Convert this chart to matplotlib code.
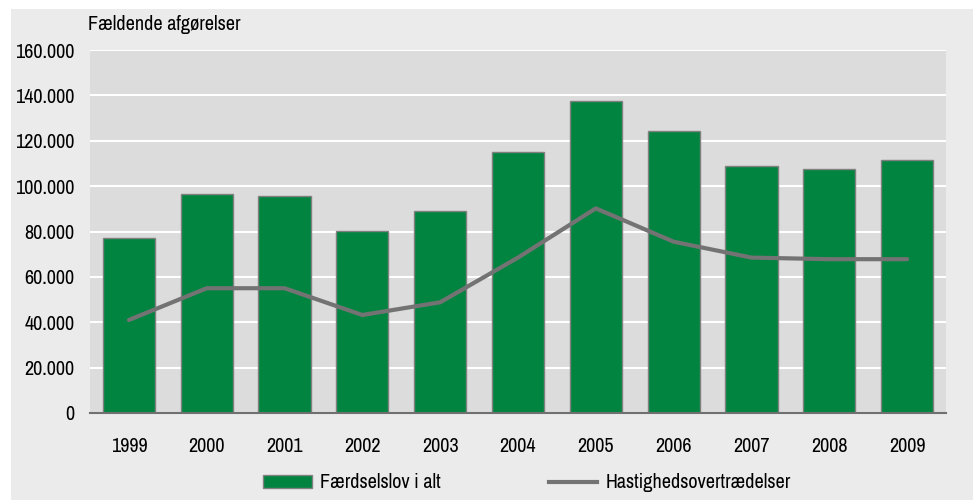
import matplotlib
matplotlib.use("Agg")
import matplotlib.pyplot as plt
from matplotlib import font_manager
from matplotlib.patches import Rectangle, Patch
from matplotlib.lines import Line2D
import numpy as np

years = ["1999", "2000", "2001", "2002", "2003", "2004", "2005", "2006", "2007", "2008", "2009"]
faerdselslov = [77000, 96400, 95700, 80200, 88900, 115000, 137500, 124300, 108900, 107700, 111500]
hastighed = [41000, 55000, 55000, 43200, 48800, 68500, 90200, 75500, 68500, 67800, 67800]
yticks = [0, 20000, 40000, 60000, 80000, 100000, 120000, 140000, 160000]
ytick_labels = ["0", "20.000", "40.000", "60.000", "80.000", "100.000", "120.000", "140.000", "160.000"]

names = sorted({f.name for f in font_manager.fontManager.ttflist})
narrow = [n for n in names if "Narrow" in n or "Condensed" in n]
if narrow:
    FONT = [narrow[0], "DejaVu Sans"]
    FS = 14.5
else:
    FONT = ["Liberation Sans", "DejaVu Sans"]
    FS = 12.5
plt.rcParams["font.family"] = FONT

W, H = 973, 501
fig = plt.figure(figsize=(W / 100, H / 100), dpi=100, facecolor="white")
fig.patches.append(Rectangle((11 / W, 1 / H), (W - 11) / W, (500 - 9) / H,
                             transform=fig.transFigure, facecolor="#ebebeb",
                             edgecolor="none", zorder=-10))

ax = fig.add_axes([90 / W, (H - 413) / H, (946 - 90) / W, (413 - 50) / H])
ax.set_zorder(2)
ax.set_facecolor("#dcdcdc")
x = np.arange(len(years))
ax.bar(x, faerdselslov, width=0.67, color="#00843f", edgecolor="#808080", linewidth=1, zorder=3)
ax.plot(x, hastighed, color="#737373", linewidth=3, solid_capstyle="round", zorder=4)

ax.set_xlim(-0.5, len(years) - 0.5)
ax.set_ylim(0, 160000)
ax.set_yticks(yticks)
ax.set_yticklabels(ytick_labels, fontsize=FS)
ax.set_xticks(x)
ax.set_xticklabels(years, fontsize=FS)
ax.tick_params(axis="both", length=0, colors="black")
ax.tick_params(axis="y", pad=11)
ax.tick_params(axis="x", pad=17)
ax.yaxis.grid(True, color="white", linewidth=1.5, zorder=1)
ax.set_axisbelow(True)
for s in ["top", "right", "left"]:
    ax.spines[s].set_visible(False)
ax.spines["bottom"].set_color("#707070")
ax.spines["bottom"].set_linewidth(1.5)
ax.spines["bottom"].set_zorder(5)

fig.text(88 / W, (H - 25) / H, "Fældende afgørelser", fontsize=FS, ha="left", va="center")

handles = [Patch(facecolor="#00843f", edgecolor="#808080", linewidth=1),
           Line2D([0], [0], color="#737373", linewidth=3)]
labels = ["Færdselslov i alt", "Hastighedsovertrædelser"]
fig.legend(handles, labels, loc="center", bbox_to_anchor=(527 / W, (H - 483) / H),
           ncol=2, frameon=False, fontsize=FS, handlelength=2.4, handletextpad=0.4,
           columnspacing=5.4, handleheight=0.6)

fig.savefig("out.png", dpi=100, facecolor="white")
